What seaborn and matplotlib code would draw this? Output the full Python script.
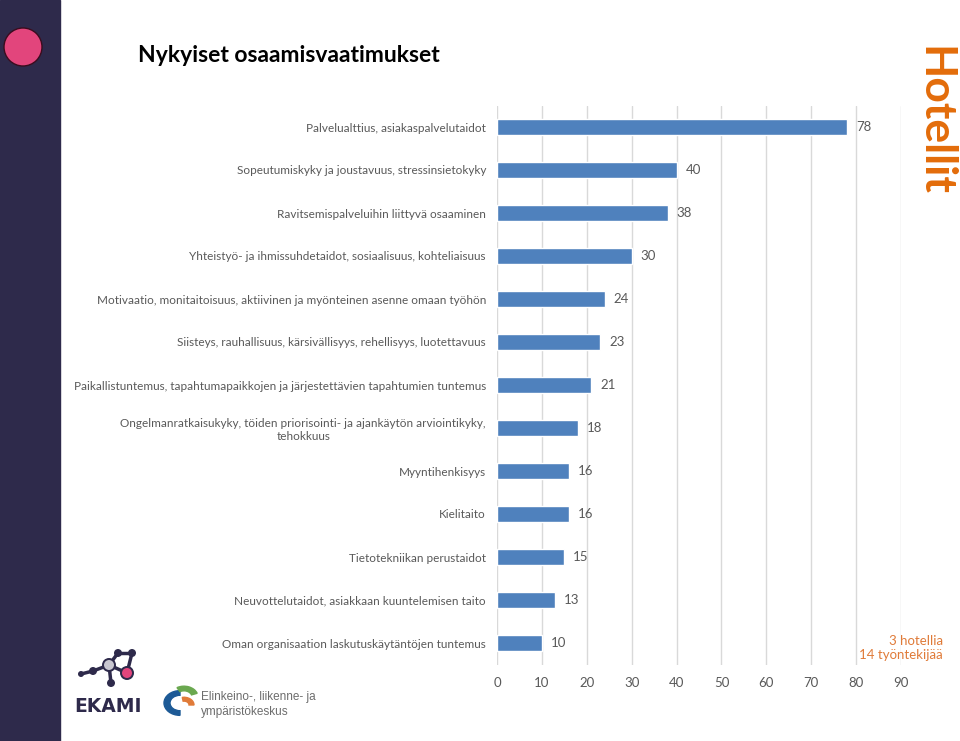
import matplotlib
matplotlib.use("Agg")
import matplotlib.pyplot as plt
import seaborn as sns
import pandas as pd
from matplotlib.patches import Ellipse, Rectangle, Wedge
from matplotlib.lines import Line2D

categories = [
    "Palvelualttius, asiakaspalvelutaidot",
    "Sopeutumiskyky ja joustavuus, stressinsietokyky",
    "Ravitsemispalveluihin liittyvä osaaminen",
    "Yhteistyö- ja ihmissuhdetaidot, sosiaalisuus, kohteliaisuus",
    "Motivaatio, monitaitoisuus, aktiivinen ja myönteinen asenne omaan työhön",
    "Siisteys, rauhallisuus, kärsivällisyys, rehellisyys, luotettavuus",
    "Paikallistuntemus, tapahtumapaikkojen ja järjestettävien tapahtumien tuntemus",
    "Ongelmanratkaisukyky, töiden priorisointi- ja ajankäytön arviointikyky,\ntehokkuus",
    "Myyntihenkisyys",
    "Kielitaito",
    "Tietotekniikan perustaidot",
    "Neuvottelutaidot, asiakkaan kuuntelemisen taito",
    "Oman organisaation laskutuskäytäntöjen tuntemus",
]
values = [78, 40, 38, 30, 24, 23, 21, 18, 16, 16, 15, 13, 10]
xticks = [0, 10, 20, 30, 40, 50, 60, 70, 80, 90]

sns.set_theme(style="white")
plt.rcParams['font.family'] = ['Lato', 'DejaVu Sans']

df = pd.DataFrame({"cat": categories, "val": values})

W, H = 960, 741
fig = plt.figure(figsize=(9.6, 7.41), dpi=100)
ax = fig.add_axes([497/W, 1 - 664.5/H, 404/W, 559/H])

sns.barplot(data=df, y="cat", x="val", orient="h", color="#4f81bd",
            saturation=1, width=0.35, ax=ax, zorder=3)
ax.set_xlim(0, 90)
ax.set_xticks(xticks)
ax.set_xticklabels([str(t) for t in xticks], color="#595959", fontsize=9.5)
ax.set_ylabel("")
ax.set_xlabel("")
ax.grid(axis="x", color="#d9d9d9", linewidth=1, zorder=0)
ax.grid(axis="y", visible=False)
for s in ax.spines.values():
    s.set_visible(False)
ax.tick_params(axis="y", length=0, pad=8)
ax.tick_params(axis="x", length=0, pad=9)
for lbl in ax.get_yticklabels():
    lbl.set_color("#595959")
    lbl.set_fontsize(8.5)
    lbl.set_multialignment("center")

for i, v in enumerate(values):
    ax.text(v + 2.0, i, str(v), va="center", ha="left", color="#595959",
            fontsize=9.5, clip_on=False)


def circ(x, y, r, fc, ec=None, lw=0, z=2):
    fig.patches.append(Ellipse((x/W, 1 - y/H), 2*r/W, 2*r/H, transform=fig.transFigure,
                               facecolor=fc, edgecolor=ec if ec else fc, lw=lw, zorder=z))


# sidebar
fig.patches.append(Rectangle((0, 0), 60/W, 1, transform=fig.transFigure,
                             color="#2e2a4b", zorder=0))
circ(23, 47, 19, "#e2457c", "#3a0c1e", 1)

fig.text(138/W, 1 - 56/H, "Nykyiset osaamisvaatimukset", fontsize=16.5,
         fontweight="bold", color="black", va="center", ha="left")

fig.text(934/W, 1 - 121/H, "Hotellit", rotation=-90, fontsize=32,
         fontweight="bold", color="#e36c0a", va="center", ha="center")

fig.text(943/W, 1 - 648/H, "3 hotellia\n14 työntekijää", fontsize=9.5,
         color="#e07b39", va="center", ha="right", multialignment="right",
         linespacing=1.2)

# EKAMI logo approximation
nodes = [(81, 674, 3, "#2e2a4b"), (93, 671, 4, "#2e2a4b"), (109, 665, 5, "#c8c6d0"),
         (118, 653, 4, "#2e2a4b"), (132, 653, 4, "#2e2a4b"), (127, 673, 5, "#e2457c"),
         (111, 683, 4, "#2e2a4b")]
edges = [(0, 1), (1, 2), (2, 3), (3, 4), (4, 5), (2, 5), (2, 6)]
for a, b in edges:
    fig.lines.append(Line2D([nodes[a][0]/W, nodes[b][0]/W],
                            [1 - nodes[a][1]/H, 1 - nodes[b][1]/H],
                            transform=fig.transFigure, color="#2e2a4b", lw=2.5, zorder=1))
for x, y, r, c in nodes:
    if c in ("#c8c6d0", "#e2457c"):
        circ(x, y, r + 2, "#2e2a4b")
    circ(x, y, r, c, z=3)
fig.text(108/W, 1 - 706/H, "EKAMI", fontsize=13.5, fontweight="bold",
         color="#2e2a4b", ha="center", va="center", family="DejaVu Sans")

# ELY logo approximation
fig.patches.append(Wedge((180/W, 1 - 703/H), 16/W, 90, 270,
                         width=6/W, transform=fig.transFigure, color="#1d5a96"))
fig.patches.append(Wedge((184/W, 1 - 697/H), 14/W, 20, 120,
                         width=6/W, transform=fig.transFigure, color="#6aa84f"))
fig.patches.append(Wedge((184/W, 1 - 705/H), 10/W, 0, 100,
                         width=5/W, transform=fig.transFigure, color="#e07b39"))
fig.text(201/W, 1 - 697/H, "Elinkeino-, liikenne- ja", fontsize=8.5,
         color="#6d6d6d", ha="left", va="center", family="Liberation Sans")
fig.text(201/W, 1 - 712/H, "ympäristökeskus", fontsize=8.5,
         color="#6d6d6d", ha="left", va="center", family="Liberation Sans")

fig.savefig("out.png", dpi=100)
